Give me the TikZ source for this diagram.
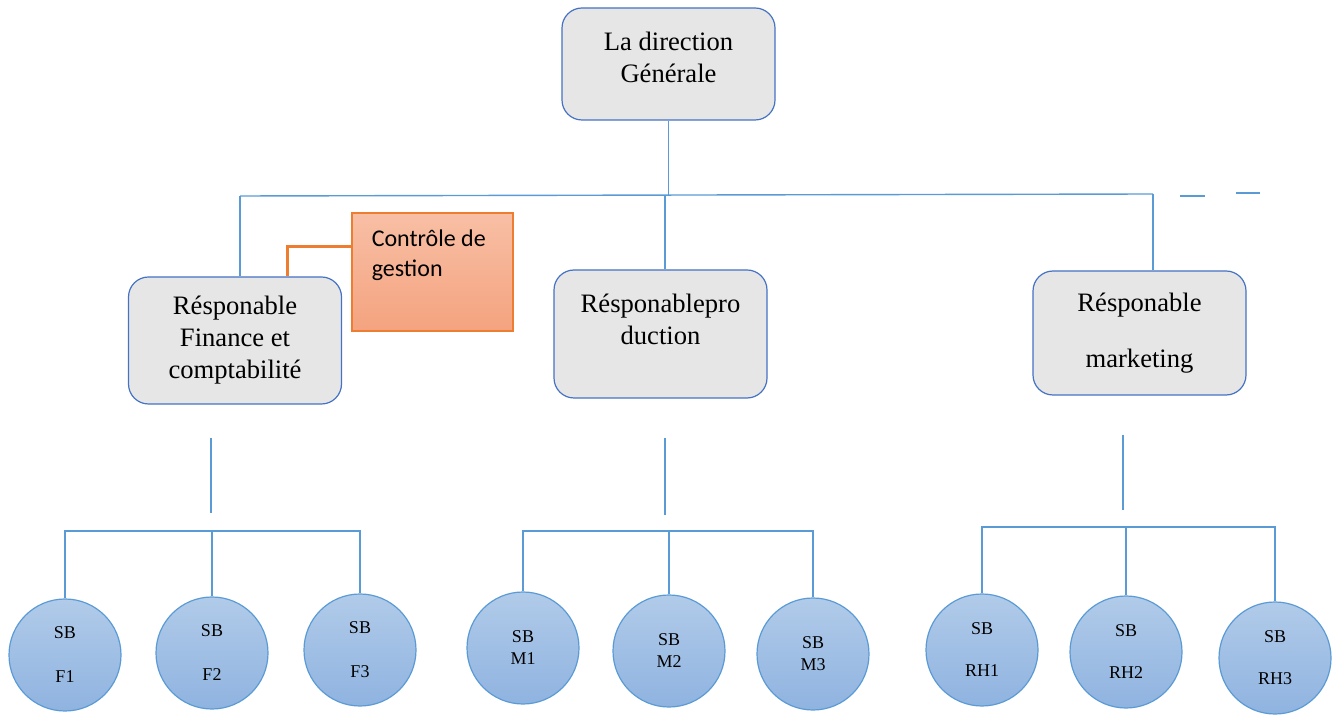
\documentclass[tikz,border=0pt]{standalone}
\usepackage{fontspec}
\setmainfont{Liberation Serif}
\newfontfamily\cdgfont{Carlito}
\usepackage{tikz}
\usetikzlibrary{shapes}

\definecolor{boxfill}{HTML}{E7E6E6}
\definecolor{boxline}{HTML}{4472C4}
\definecolor{linkblue}{HTML}{5B9BD5}
\definecolor{sbtop}{HTML}{B1CBE9}
\definecolor{sbbot}{HTML}{8FB3E0}
\definecolor{cdgtop}{HTML}{F8BFA5}
\definecolor{cdgbot}{HTML}{F4A37F}
\definecolor{cdgline}{HTML}{ED7D31}

\tikzset{
  resp/.style={draw=boxline, fill=boxfill, rounded corners=10pt, line width=0.6pt,
    align=center, inner sep=0pt, minimum width=106.5pt,
    font=\fontsize{13.3}{16}\selectfont},
  sb/.style={circle, draw=linkblue, top color=sbtop, bottom color=sbbot,
    line width=0.6pt, minimum size=56pt, inner sep=0pt, align=center,
    font=\fontsize{9}{11}\selectfont},
  cdgbox/.style={draw=cdgline, top color=cdgtop, bottom color=cdgbot,
    line width=0.6pt, minimum width=80.5pt, minimum height=59pt, inner sep=0pt},
  cdgtext/.style={anchor=north west, align=left, inner sep=0pt,
    xshift=10pt, yshift=-8.5pt, font=\cdgfont\fontsize{12}{15}\selectfont},
  link/.style={draw=linkblue, line width=0.7pt},
  ctrl/.style={draw=cdgline, line width=1.5pt}
}

\begin{document}
\begin{tikzpicture}[x=0.5pt,y=-0.5pt]
\useasboundingbox (0,0) rectangle (1333,715);
%
\node[resp, minimum height=56pt, text depth=7pt] (dg) at (668.5,64) {La direction\\Générale};
\node[resp, minimum height=63.5pt] (fin) at (235,340.5) {Résponable\\Finance et\\comptabilité};
\node[resp, minimum height=64pt, text depth=15pt] (prod) at (660.5,334) {Résponablepro\\duction};
\node[resp, minimum height=62pt] (mkt) at (1139.5,333) {Résponable\\[12pt]marketing};
\node[cdgbox, label={[cdgtext]north west:Contrôle de\\gestion}] (cdg) at (432.5,272) {};
%
\node[sb] (f1) at (65,655) {SB\\[11pt]F1};
\node[sb] (f2) at (212,653) {SB\\[11pt]F2};
\node[sb] (f3) at (360,650) {SB\\[11pt]F3};
\node[sb] (m1) at (523,648) {SB\\M1};
\node[sb] (m2) at (669,651) {SB\\M2};
\node[sb] (m3) at (813,654) {SB\\M3};
\node[sb] (rh1) at (982,650) {SB\\[10pt]RH1};
\node[sb] (rh2) at (1126,652) {SB\\[10pt]RH2};
\node[sb] (rh3) at (1275,658) {SB\\[10pt]RH3};
%
\coordinate (busL) at (240,196);
\coordinate (busP) at (665,195);
\coordinate (busR) at (1153,194);
\coordinate (finA) at (211,438);
\coordinate (finB) at (211,513);
\coordinate (prodA) at (665,438);
\coordinate (prodB) at (665,515);
\coordinate (mktA) at (1123,435);
\coordinate (mktB) at (1123,510);
\coordinate (busF) at (211,531);
\coordinate (busM) at (665,531);
\coordinate (busH) at (1123,527);
%
\draw[link] (dg.south) -- (dg.south |- busL);
\draw[link] (busL) -- (busR);
\draw[link] (busL) -- (busL |- fin.north);
\draw[link] (busP) -- (busP |- prod.north);
\draw[link] (busR) -- (busR |- mkt.north);
\draw[link] (1180,196) -- (1205,196);
\draw[link] (1236,193) -- (1260,193);
\draw[ctrl] ([xshift=26pt]fin.north) |- ([yshift=12.5pt]cdg.west);
%
\draw[link] (finA) -- (finB);
\draw[link] (prodA) -- (prodB);
\draw[link] (mktA) -- (mktB);
%
\draw[link] (f1.north) -- (f1.north |- busF) -| (f3.north);
\draw[link] (f2.north) -- (f2.north |- busF);
\draw[link] (m1.north) -- (m1.north |- busM) -| (m3.north);
\draw[link] (m2.north) -- (m2.north |- busM);
\draw[link] (rh1.north) -- (rh1.north |- busH) -| (rh3.north);
\draw[link] (rh2.north) -- (rh2.north |- busH);
%
\end{tikzpicture}
\end{document}
